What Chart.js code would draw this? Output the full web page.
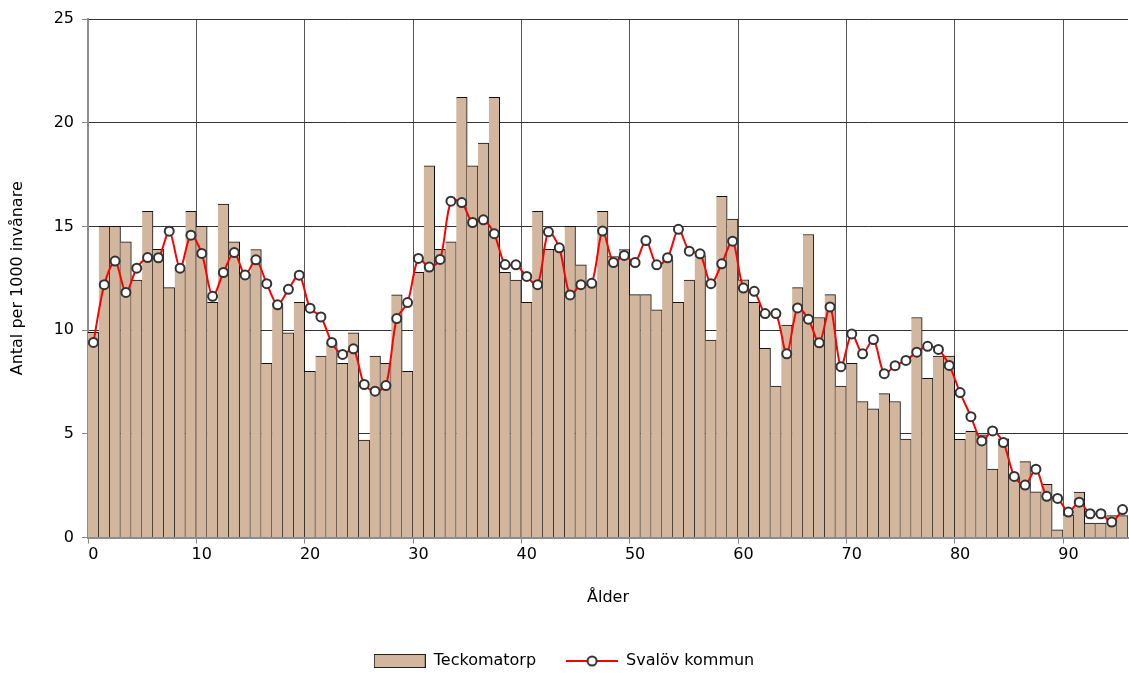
<!DOCTYPE html>
<html lang="sv">
<head>
<meta charset="utf-8">
<title>Teckomatorp – Svalöv kommun</title>
<script src="https://cdn.jsdelivr.net/npm/chart.js@4.4.1/dist/chart.umd.min.js"></script>
<style>
  html, body { margin: 0; padding: 0; background: #fff; overflow: hidden; }
  #wrap { width: 1129px; height: 673px; position: relative; }
</style>
</head>
<body>
<div id="wrap"><canvas id="ageChart"></canvas></div>
<script>
const ages = [
  0, 1, 2, 3, 4, 5, 6, 7, 8, 9, 10, 11, 12, 13, 14, 15, 16, 17, 18, 19,
  20, 21, 22, 23, 24, 25, 26, 27, 28, 29, 30, 31, 32, 33, 34, 35, 36, 37, 38, 39,
  40, 41, 42, 43, 44, 45, 46, 47, 48, 49, 50, 51, 52, 53, 54, 55, 56, 57, 58, 59,
  60, 61, 62, 63, 64, 65, 66, 67, 68, 69, 70, 71, 72, 73, 74, 75, 76, 77, 78, 79,
  80, 81, 82, 83, 84, 85, 86, 87, 88, 89, 90, 91, 92, 93, 94, 95,
];

// Teckomatorp, antal per 1000 invånare
const teckomatorp = [
  9.9, 15.0, 15.0, 14.26, 12.42, 15.73, 13.9, 12.05, 12.9, 15.73,
  15.0, 11.34, 16.08, 14.26, 12.7, 13.89, 8.4, 11.28, 9.87, 11.34,
  8.02, 8.75, 9.4, 8.4, 9.87, 4.7, 8.75, 8.4, 11.7, 8.02,
  12.79, 17.92, 13.9, 14.26, 21.22, 17.92, 19.02, 21.22, 12.79, 12.42,
  11.34, 15.73, 13.9, 13.9, 15.0, 13.15, 12.2, 15.73, 13.55, 13.89,
  11.71, 11.71, 10.98, 13.4, 11.34, 12.42, 13.6, 9.52, 16.45, 15.36,
  12.43, 11.34, 9.12, 7.31, 10.24, 12.05, 14.61, 10.61, 11.71, 7.31,
  8.4, 6.56, 6.21, 6.94, 6.56, 4.75, 10.61, 7.68, 8.75, 8.75,
  4.74, 5.12, 4.95, 3.3, 4.76, 2.92, 3.66, 2.21, 2.57, 0.38,
  1.1, 2.2, 0.7, 0.7, 1.06, 1.06,
];

// Svalöv kommun, antal per 1000 invånare
const svalov = [
  9.41, 12.19, 13.33, 11.82, 12.99, 13.5, 13.49, 14.77, 12.99, 14.58,
  13.7, 11.63, 12.78, 13.74, 12.66, 13.39, 12.24, 11.22, 11.97, 12.65,
  11.06, 10.64, 9.41, 8.83, 9.1, 7.38, 7.06, 7.33, 10.56, 11.33,
  13.46, 13.04, 13.41, 16.22, 16.15, 15.19, 15.32, 14.65, 13.16, 13.15,
  12.59, 12.19, 14.74, 13.97, 11.7, 12.19, 12.26, 14.78, 13.26, 13.6,
  13.26, 14.32, 13.15, 13.49, 14.86, 13.81, 13.68, 12.24, 13.2, 14.29,
  12.03, 11.87, 10.8, 10.8, 8.86, 11.07, 10.53, 9.39, 11.12, 8.24,
  9.82, 8.86, 9.55, 7.9, 8.29, 8.54, 8.94, 9.22, 9.07, 8.3,
  6.99, 5.83, 4.66, 5.14, 4.58, 2.95, 2.53, 3.3, 1.99, 1.89,
  1.23, 1.71, 1.15, 1.15, 0.75, 1.35,
];

const xLabelAges = [0, 10, 20, 30, 40, 50, 60, 70, 80, 90];
const yTickValues = [0, 5, 10, 15, 20, 25];

const FONT = "'DejaVu Sans', sans-serif";
const BAR_FILL = "#d3b69e";

// legend symbols
function makeSymbol(kind) {
  const c = document.createElement("canvas");
  c.width = 52;
  c.height = 14;
  const g = c.getContext("2d");
  if (kind === "bar") {
    g.fillStyle = BAR_FILL;
    g.fillRect(0.5, 0.5, 51, 13);
    g.strokeStyle = "#222";
    g.lineWidth = 1;
    g.strokeRect(0.5, 0.5, 51, 13);
  } else {
    g.strokeStyle = "#ff0000";
    g.lineWidth = 2;
    g.beginPath();
    g.moveTo(0, 7);
    g.lineTo(52, 7);
    g.stroke();
    g.beginPath();
    g.arc(26, 7, 4.5, 0, Math.PI * 2);
    g.fillStyle = "#fff";
    g.fill();
    g.strokeStyle = "#333";
    g.stroke();
  }
  return c;
}
const barSymbol = makeSymbol("bar");
const lineSymbol = makeSymbol("line");

new Chart(document.getElementById("ageChart"), {
  data: {
    labels: ages,
    datasets: [
      {
        type: "bar",
        label: "Teckomatorp",
        data: teckomatorp,
        backgroundColor: BAR_FILL,
        borderColor: "#111",
        borderWidth: { top: 1, right: 1, left: 0, bottom: 0 },
        borderSkipped: false,
        barPercentage: 1,
        categoryPercentage: 1,
        order: 1,
      },
      {
        type: "line",
        label: "Svalöv kommun",
        data: svalov,
        borderColor: "#ff0000",
        borderWidth: 2,
        tension: 0.3,
        pointRadius: 4.5,
        pointBorderWidth: 2,
        pointBackgroundColor: "#ffffff",
        pointBorderColor: "#333333",
        order: 0,
      },
    ],
  },
  options: {
    responsive: true,
    maintainAspectRatio: false,
    animation: false,
    layout: { autoPadding: false, padding: { top: 19, right: 1, bottom: -6, left: 0 } },
    scales: {
      x: {
        offset: true,
        grid: {
          offset: true,
          color: (ctx) => (ctx.index % 10 === 0 ? "#555" : "transparent"),
          tickColor: (ctx) => (ctx.index % 10 === 0 ? "#888" : "transparent"),
          tickLength: 6,
        },
        border: { color: "#8c8c8c", width: 2 },
        ticks: {
          autoSkip: false,
          maxRotation: 0,
          padding: 2,
          color: "#000",
          font: { family: FONT, size: 16 },
          callback: function (value, index) {
            const a = ages[index];
            return xLabelAges.includes(a) ? String(a) : "";
          },
        },
        title: {
          display: true,
          text: "Ålder",
          color: "#000",
          font: { family: FONT, size: 16 },
          padding: { top: 21, bottom: 16 },
        },
      },
      y: {
        min: 0,
        max: 25,
        afterBuildTicks: (s) => {
          s.ticks = yTickValues.map((v) => ({ value: v }));
        },
        afterFit: (s) => {
          s.width = 88;
        },
        grid: { color: "#333", tickColor: "#888", tickLength: 6 },
        border: { color: "#8c8c8c", width: 2 },
        ticks: {
          padding: 8,
          color: "#000",
          font: { family: FONT, size: 16 },
        },
        title: {
          display: true,
          text: "Antal per 1000 invånare",
          color: "#000",
          font: { family: FONT, size: 16 },
          padding: { top: 8, bottom: 0 },
        },
      },
    },
    plugins: {
      tooltip: { enabled: false },
      legend: {
        position: "bottom",
        labels: {
          usePointStyle: true,
          pointStyleWidth: 52,
          boxHeight: 14,
          padding: 30,
          color: "#000",
          font: { family: FONT, size: 16 },
          generateLabels: () => [
            { text: "Teckomatorp", pointStyle: barSymbol, datasetIndex: 0, fontColor: "#000", lineWidth: 0, strokeStyle: "transparent", fillStyle: BAR_FILL },
            { text: "Svalöv kommun", pointStyle: lineSymbol, datasetIndex: 1, fontColor: "#000", lineWidth: 0, strokeStyle: "transparent", fillStyle: "#ff0000" },
          ],
        },
      },
    },
  },
});
</script>
</body>
</html>
